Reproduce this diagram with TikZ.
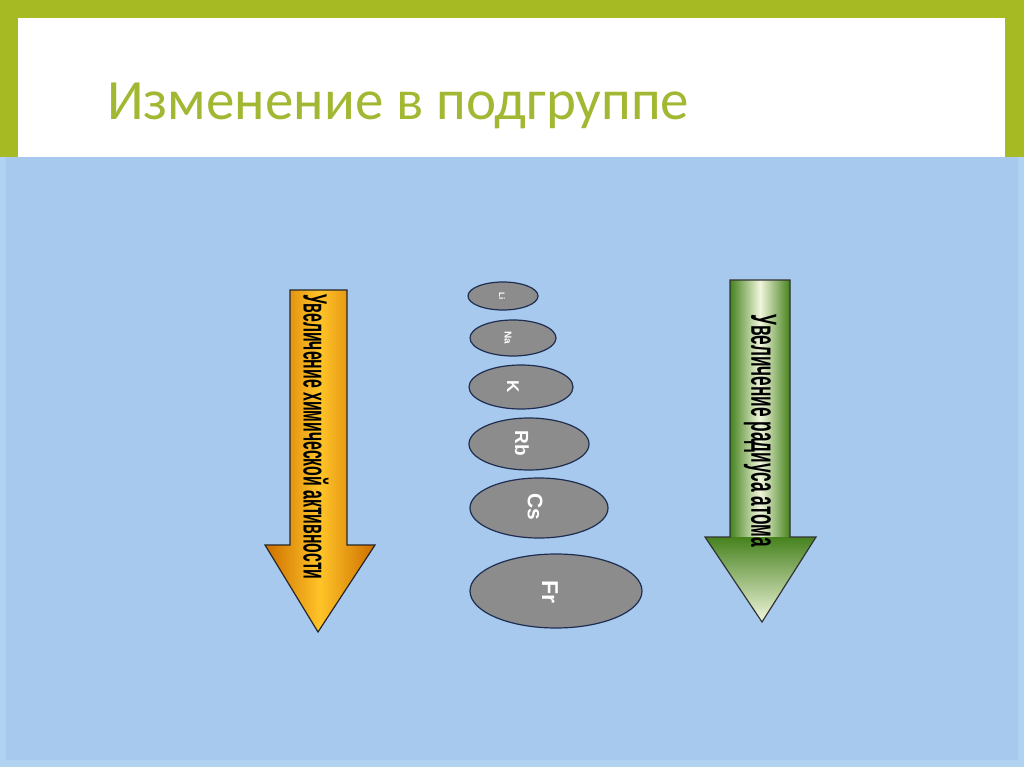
\documentclass[tikz,border=0pt]{standalone}
\usepackage{fontspec}
\setmainfont{Liberation Sans}
\newfontfamily\titlefont{Carlito}
\usetikzlibrary{shapes.geometric}
\definecolor{frameGreen}{RGB}{166,186,36}
\definecolor{titleGreen}{RGB}{163,184,50}
\definecolor{bgBlue}{RGB}{167,201,238}
\definecolor{bgBlueEdge}{RGB}{178,210,242}
\definecolor{atomGray}{RGB}{140,140,140}
\definecolor{atomLine}{RGB}{30,45,80}
\definecolor{orDark}{RGB}{205,110,0}
\definecolor{orMid}{RGB}{255,196,40}
\definecolor{grDark}{RGB}{70,130,30}
\definecolor{grMid}{RGB}{240,246,220}
\tikzset{
  atom/.style={ellipse, draw=atomLine, line width=1.2pt, fill=atomGray, inner sep=0pt},
  atomlabel/.style={text=white, inner sep=0pt},
  arrowtext/.style={inner sep=0pt, text=black},
}
\begin{document}
\begin{tikzpicture}[x=1pt,y=-1pt]
\useasboundingbox (0,0) rectangle (1024,767);
% frame and backgrounds
\fill[frameGreen] (0,0) rectangle (1024,160);
\fill[white] (18,18) rectangle (1005,160);
\fill[bgBlueEdge] (0,157) rectangle (1024,767);
\fill[bgBlue] (6,157) rectangle (1018,760);
% title
\node[anchor=base west, inner sep=0pt, text=titleGreen, font=\titlefont\fontsize{57}{60}\selectfont] (title) at (107,120) {Изменение в подгруппе};
% orange arrow
\shade[left color=orDark, right color=orDark, middle color=orMid, draw=black!85, line width=1.2pt]
  (290,290) -- (347,290) -- (347,545) -- (375,545) -- (318,632) -- (265,545) -- (290,545) -- cycle;
\node[arrowtext, rotate=-90] (t1) at (316,437) {\resizebox{285pt}{25pt}{\bfseries Увеличение химической активности}};
% green arrow
\shade[left color=grDark, right color=grDark, middle color=grMid]
  (730,280) rectangle (790,537);
\shade[top color=grDark, bottom color=grMid]
  (705,537) -- (816,537) -- (762,622) -- cycle;
\draw[black!80, line width=1.2pt]
  (730,280) -- (790,280) -- (790,537) -- (816,537) -- (762,622) -- (705,537) -- (730,537) -- cycle;
\node[arrowtext, rotate=-90] (t2) at (760,431) {\resizebox{232pt}{25pt}{\bfseries Увеличение радиуса атома}};
% atoms
\node[atom, minimum width=70pt, minimum height=28pt] (li) at (503,296) {};
\node[atom, minimum width=86pt, minimum height=36pt] (na) at (513,338) {};
\node[atom, minimum width=104pt, minimum height=44pt] (k) at (521,387) {};
\node[atom, minimum width=120pt, minimum height=52pt] (rb) at (529,444) {};
\node[atom, minimum width=138pt, minimum height=60pt] (cs) at (539,508) {};
\node[atom, minimum width=172pt, minimum height=74pt] (fr) at (556,591) {};
\node[atomlabel, rotate=-90, font=\bfseries\fontsize{8}{9}\selectfont] (lil) at (502,296) {Li};
\node[atomlabel, rotate=-90, font=\bfseries\fontsize{10}{11}\selectfont] (nal) at (508,338) {Na};
\node[atomlabel, rotate=-90, font=\bfseries\fontsize{17}{19}\selectfont] (kl) at (513,387) {K};
\node[atomlabel, rotate=-90, font=\bfseries\fontsize{19}{21}\selectfont] (rbl) at (522,443) {Rb};
\node[atomlabel, rotate=-90, font=\bfseries\fontsize{21}{23}\selectfont] (csl) at (535,507) {Cs};
\node[atomlabel, rotate=-90, font=\bfseries\fontsize{23}{25}\selectfont] (frl) at (550,592) {Fr};
\end{tikzpicture}
\end{document}
